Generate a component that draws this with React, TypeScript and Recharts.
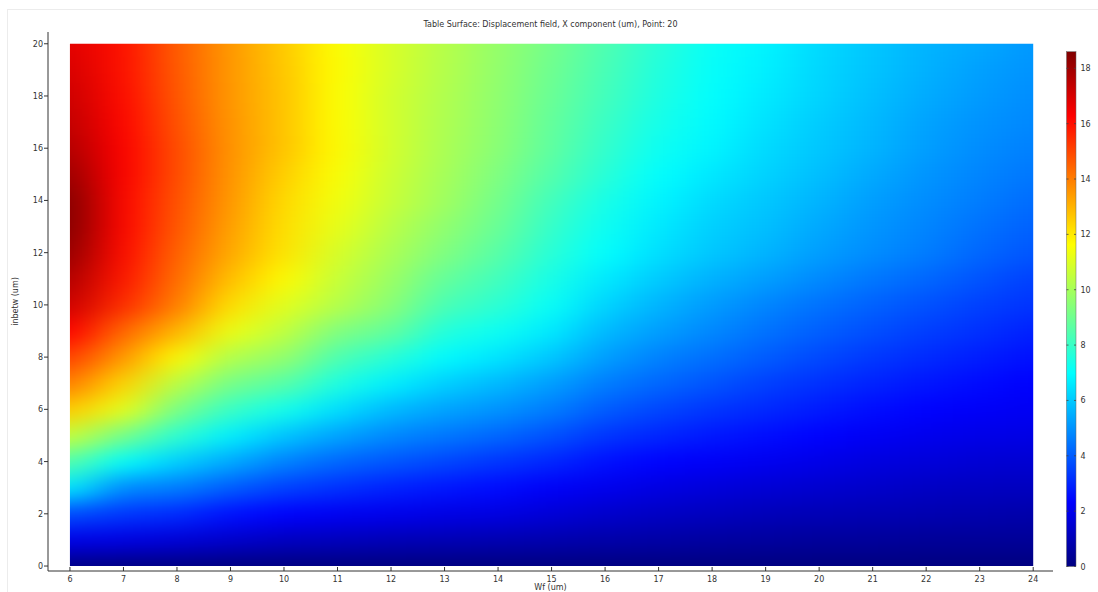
import React from "react";
import { ScatterChart, Scatter, XAxis, YAxis } from "recharts";

// grid: Wf (um) columns, inbetw (um) rows
const WF = [6, 7, 8, 9, 10, 11, 12, 13, 14, 15, 16, 17, 18, 19, 20, 21, 22, 23, 24];
const INBETW = [0, 1, 2, 3, 4, 5, 6, 7, 8, 9, 10, 11, 12, 13, 14, 15, 16, 17, 18, 19, 20];

// Displacement X component (um), inbetw = 0..20 for each Wf
const UX_WF6 = [0.1, 1.9, 3.7, 6.6, 8.5, 10.6, 12.6, 14.0, 15.1, 16.3, 17.2, 17.7, 18.2, 18.5, 18.5, 18.1, 17.7, 17.4, 17.2, 17.0, 16.8];
const UX_WF7 = [0.05, 1.8, 3.3, 4.8, 7.0, 9.1, 11.2, 12.4, 13.5, 14.4, 15.5, 15.9, 16.1, 16.2, 16.2, 16.3, 16.3, 16.2, 16.1, 16.0, 16.0];
const UX_WF8 = [0.05, 1.6, 3.1, 4.6, 6.1, 7.8, 9.2, 10.4, 11.7, 13.0, 14.0, 14.3, 14.5, 14.7, 14.8, 14.9, 14.9, 14.8, 14.7, 14.65, 14.6];
const UX_WF9 = [0, 1.4, 2.6, 4.0, 5.4, 6.7, 8.0, 9.1, 10.2, 11.3, 12.2, 12.8, 13.2, 13.35, 13.5, 13.55, 13.6, 13.55, 13.5, 13.5, 13.5];
const UX_WF10 = [0, 1.2, 2.3, 3.5, 4.7, 5.9, 7.3, 8.6, 9.7, 10.5, 11.1, 11.7, 12.1, 12.2, 12.3, 12.5, 12.7, 12.7, 12.7, 12.65, 12.6];
const UX_WF11 = [0, 1.1, 2.1, 3.2, 4.2, 5.3, 6.4, 7.5, 8.4, 9.3, 10.3, 10.6, 10.9, 11.2, 11.4, 11.55, 11.7, 11.65, 11.6, 11.65, 11.6];
const UX_WF12 = [0, 1.0, 2.0, 2.9, 3.9, 4.8, 5.7, 6.7, 7.7, 8.8, 9.5, 9.8, 10.1, 10.35, 10.6, 10.7, 10.8, 10.8, 10.8, 10.9, 10.9];
const UX_WF13 = [0, 0.95, 1.85, 2.7, 3.6, 4.5, 5.3, 6.1, 6.9, 7.6, 8.3, 8.8, 9.3, 9.6, 9.9, 10.0, 10.1, 10.15, 10.2, 10.25, 10.3];
const UX_WF14 = [0, 0.9, 1.8, 2.5, 3.3, 4.2, 5.0, 5.7, 6.5, 7.2, 7.8, 8.2, 8.6, 8.9, 9.1, 9.3, 9.5, 9.55, 9.6, 9.65, 9.7];
const UX_WF15 = [0, 0.85, 1.6, 2.2, 3.0, 3.8, 4.6, 5.2, 5.95, 6.6, 7.1, 7.4, 7.7, 7.95, 8.2, 8.5, 8.7, 8.8, 8.9, 9.0, 9.1];
const UX_WF16 = [0, 0.75, 1.4, 2.0, 2.6, 3.3, 4.0, 4.6, 5.2, 5.7, 6.2, 6.6, 7.0, 7.2, 7.4, 7.7, 7.9, 8.05, 8.2, 8.3, 8.4];
const UX_WF17 = [0, 0.7, 1.25, 1.8, 2.35, 3.0, 3.6, 4.2, 4.7, 5.2, 5.6, 6.0, 6.4, 6.6, 6.8, 7.0, 7.2, 7.35, 7.5, 7.6, 7.7];
const UX_WF18 = [0, 0.6, 1.15, 1.65, 2.2, 2.75, 3.3, 3.85, 4.35, 4.8, 5.15, 5.55, 5.95, 6.1, 6.3, 6.55, 6.8, 6.9, 7.0, 7.05, 7.1];
const UX_WF19 = [0, 0.55, 1.05, 1.55, 2.05, 2.55, 3.05, 3.5, 4.0, 4.4, 4.75, 5.2, 5.6, 5.8, 5.95, 6.15, 6.3, 6.45, 6.6, 6.7, 6.8];
const UX_WF20 = [0, 0.5, 1.0, 1.45, 1.9, 2.35, 2.8, 3.2, 3.65, 4.05, 4.4, 4.85, 5.2, 5.4, 5.6, 5.8, 5.95, 6.05, 6.2, 6.25, 6.3];
const UX_WF21 = [0, 0.5, 0.95, 1.35, 1.75, 2.15, 2.55, 2.95, 3.35, 3.75, 4.1, 4.5, 4.9, 5.05, 5.2, 5.4, 5.6, 5.7, 5.8, 5.9, 5.95];
const UX_WF22 = [0, 0.45, 0.9, 1.25, 1.65, 2.0, 2.35, 2.7, 3.1, 3.45, 3.8, 4.2, 4.6, 4.75, 4.9, 5.05, 5.2, 5.3, 5.45, 5.55, 5.6];
const UX_WF23 = [0, 0.45, 0.85, 1.2, 1.55, 1.9, 2.2, 2.5, 2.85, 3.2, 3.5, 3.85, 4.2, 4.4, 4.6, 4.75, 4.9, 5.0, 5.15, 5.25, 5.4];
const UX_WF24 = [0, 0.45, 0.8, 1.15, 1.5, 1.85, 2.1, 2.3, 2.6, 2.9, 3.25, 3.5, 3.9, 4.1, 4.3, 4.5, 4.65, 4.8, 4.9, 5.0, 5.1];

const UX_COLUMNS = [
  UX_WF6, UX_WF7, UX_WF8, UX_WF9, UX_WF10, UX_WF11, UX_WF12, UX_WF13, UX_WF14, UX_WF15,
  UX_WF16, UX_WF17, UX_WF18, UX_WF19, UX_WF20, UX_WF21, UX_WF22, UX_WF23, UX_WF24,
];

const X_TICKS = WF;
const Y_TICKS = [0, 2, 4, 6, 8, 10, 12, 14, 16, 18, 20];
const COLORBAR_TICKS = [0, 2, 4, 6, 8, 10, 12, 14, 16, 18];
const UX_MIN = 0;
const UX_MAX = 18.6;

const TITLE = "Table Surface: Displacement field, X component (um), Point: 20";

// layout
const W = 1098;
const H = 592;
const PLOT = { left: 48, top: 32, right: 1053, bottom: 571 };
const X_DOMAIN: [number, number] = [5.59, 24.37];
const Y_DOMAIN: [number, number] = [-0.19, 20.45];
const FONT = "'DejaVu Sans', sans-serif";
const INK = "#333";

const pxPerX = (PLOT.right - PLOT.left) / (X_DOMAIN[1] - X_DOMAIN[0]);
const pxPerY = (PLOT.bottom - PLOT.top) / (Y_DOMAIN[1] - Y_DOMAIN[0]);
const sx = (v: number) => PLOT.left + (v - X_DOMAIN[0]) * pxPerX;
const sy = (v: number) => PLOT.bottom - (v - Y_DOMAIN[0]) * pxPerY;

// colour bar geometry
const CB = { x: 1066.5, w: 9.5, bottom: 566.5, top: 51.7 };
const cbY = (v: number) => CB.bottom - ((v - UX_MIN) / (UX_MAX - UX_MIN)) * (CB.bottom - CB.top);

const clamp = (v: number) => Math.max(0, Math.min(1, v));
const jet = (value: number) => {
  const t = clamp((value - UX_MIN) / (UX_MAX - UX_MIN));
  const r = clamp(Math.min(4 * t - 1.5, -4 * t + 4.5));
  const g = clamp(Math.min(4 * t - 0.5, -4 * t + 3.5));
  const b = clamp(Math.min(4 * t + 0.5, -4 * t + 2.5));
  return `rgb(${Math.round(r * 255)},${Math.round(g * 255)},${Math.round(b * 255)})`;
};

const JET_STOPS = [
  { t: 0, c: "rgb(0,0,128)" },
  { t: 0.125, c: "rgb(0,0,255)" },
  { t: 0.375, c: "rgb(0,255,255)" },
  { t: 0.625, c: "rgb(255,255,0)" },
  { t: 0.875, c: "rgb(255,0,0)" },
  { t: 1, c: "rgb(128,0,0)" },
];

const cells = UX_COLUMNS.flatMap((col, i) =>
  col.map((ux, j) => ({ wf: WF[i], inb: INBETW[j], ux }))
);

const HeatCell = (props: any) => {
  const { cx, cy, payload } = props;
  const w = pxPerX;
  const h = pxPerY;
  let x0 = cx - w / 2 - 0.5;
  let x1 = cx + w / 2 + 0.5;
  let y0 = cy - h / 2 - 0.5;
  let y1 = cy + h / 2 + 0.5;
  // stretch border cells outward so the smoothing has colour to work with
  if (payload.wf === WF[0]) x0 -= w;
  if (payload.wf === WF[WF.length - 1]) x1 += w;
  if (payload.inb === INBETW[0]) y1 += h;
  if (payload.inb === INBETW[INBETW.length - 1]) y0 -= h;
  return <rect x={x0} y={y0} width={x1 - x0} height={y1 - y0} fill={jet(payload.ux)} />;
};

const BottomTick = (props: any) => {
  const { x, y, payload } = props;
  return (
    <g>
      <line x1={x} x2={x} y1={y} y2={y - 4} stroke={INK} strokeWidth={1} />
      <text x={x} y={y + 11} textAnchor="middle" fontSize={8} fontFamily={FONT} fill={INK}>
        {payload.value}
      </text>
    </g>
  );
};

const TopTick = (props: any) => {
  const { x, y } = props;
  return <line x1={x} x2={x} y1={y} y2={y + 4} stroke={INK} strokeWidth={1} />;
};

const LeftTick = (props: any) => {
  const { x, y, payload } = props;
  return (
    <g>
      <line x1={x - 4} x2={x} y1={y} y2={y} stroke={INK} strokeWidth={1} />
      <text x={x - 5} y={y + 3} textAnchor="end" fontSize={8} fontFamily={FONT} fill={INK}>
        {payload.value}
      </text>
    </g>
  );
};

const RightTick = (props: any) => {
  const { x, y } = props;
  return <line x1={x - 4} x2={x} y1={y} y2={y} stroke={INK} strokeWidth={1} />;
};

export default function App() {
  return (
    <div style={{ position: "absolute", left: 0, top: 0, width: W, height: H, background: "#fff", overflow: "hidden" }}>
      <style>{`.recharts-scatter { filter: url(#uxBlur); clip-path: url(#uxClip); }`}</style>
      <svg width={0} height={0} style={{ position: "absolute" }}>
        <defs>
          <clipPath id="uxClip" clipPathUnits="userSpaceOnUse">
            <rect x={sx(WF[0])} y={sy(20)} width={sx(WF[WF.length - 1]) - sx(WF[0])} height={sy(0) - sy(20)} />
          </clipPath>
          <filter id="uxBlur" x="-5%" y="-5%" width="110%" height="110%" colorInterpolationFilters="sRGB">
            <feGaussianBlur stdDeviation="22 10" />
          </filter>
          <linearGradient id="jetBar" x1="0" y1="1" x2="0" y2="0">
            {JET_STOPS.map((s) => (
              <stop key={s.t} offset={s.t} stopColor={s.c} />
            ))}
          </linearGradient>
        </defs>
      </svg>

      <div style={{ position: "absolute", left: 0, top: 0 }}>
        <ScatterChart
          width={W}
          height={H}
          margin={{ top: PLOT.top, right: W - PLOT.right, bottom: H - PLOT.bottom - 20, left: PLOT.left - 40 }}
        >
          <XAxis
            xAxisId={0}
            type="number"
            dataKey="wf"
            domain={X_DOMAIN}
            ticks={X_TICKS}
            interval={0}
            allowDataOverflow
            height={20}
            tickSize={0}
            tickMargin={0}
            tickLine={false}
            tick={<BottomTick />}
            axisLine={{ stroke: INK, strokeWidth: 1 }}
          />
          <XAxis
            xAxisId="top"
            orientation="top"
            type="number"
            dataKey="wf"
            domain={X_DOMAIN}
            ticks={X_TICKS}
            interval={0}
            allowDataOverflow
            height={0}
            tickSize={0}
            tickMargin={0}
            tickLine={false}
            tick={<TopTick />}
            axisLine={{ stroke: INK, strokeWidth: 1 }}
          />
          <YAxis
            yAxisId={0}
            type="number"
            dataKey="inb"
            domain={Y_DOMAIN}
            ticks={Y_TICKS}
            interval={0}
            allowDataOverflow
            width={40}
            tickSize={0}
            tickMargin={0}
            tickLine={false}
            tick={<LeftTick />}
            axisLine={{ stroke: INK, strokeWidth: 1 }}
          />
          <YAxis
            yAxisId="right"
            orientation="right"
            type="number"
            dataKey="inb"
            domain={Y_DOMAIN}
            ticks={Y_TICKS}
            interval={0}
            allowDataOverflow
            width={0}
            tickSize={0}
            tickMargin={0}
            tickLine={false}
            tick={<RightTick />}
            axisLine={{ stroke: INK, strokeWidth: 1 }}
          />
          <Scatter
            data={cells}
            xAxisId={0}
            yAxisId={0}
            shape={(p: any) => <HeatCell {...p} />}
            isAnimationActive={false}
          />
        </ScatterChart>
      </div>

      <svg
        width={W}
        height={H}
        style={{ position: "absolute", left: 0, top: 0, pointerEvents: "none" }}
      >
        <rect x={7.5} y={9.5} width={W} height={H} fill="none" stroke="#ececec" strokeWidth={1} />
        <text x={(PLOT.left + PLOT.right) / 2} y={27} textAnchor="middle" fontSize={8} fontFamily={FONT} fill={INK}>
          {TITLE}
        </text>
        <text x={(PLOT.left + PLOT.right) / 2} y={590} textAnchor="middle" fontSize={8} fontFamily={FONT} fill={INK}>
          Wf (um)
        </text>
        <text
          x={18}
          y={(PLOT.top + PLOT.bottom) / 2}
          transform={`rotate(-90 18 ${(PLOT.top + PLOT.bottom) / 2})`}
          textAnchor="middle"
          fontSize={8}
          fontFamily={FONT}
          fill={INK}
        >
          inbetw (um)
        </text>

        <rect
          x={CB.x}
          y={CB.top}
          width={CB.w}
          height={CB.bottom - CB.top}
          fill="url(#jetBar)"
          stroke="#666"
          strokeWidth={0.5}
        />
        {COLORBAR_TICKS.map((v) => (
          <g key={v}>
            <line x1={CB.x} x2={CB.x + 2} y1={cbY(v)} y2={cbY(v)} stroke="#444" strokeWidth={0.8} />
            <line x1={CB.x + CB.w - 2} x2={CB.x + CB.w} y1={cbY(v)} y2={cbY(v)} stroke="#444" strokeWidth={0.8} />
            <text x={CB.x + CB.w + 4.5} y={cbY(v) + 3} fontSize={8} fontFamily={FONT} fill={INK}>
              {v}
            </text>
          </g>
        ))}
      </svg>
    </div>
  );
}
